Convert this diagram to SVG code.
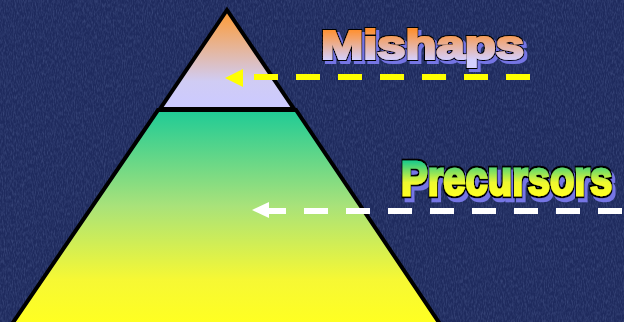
<svg xmlns="http://www.w3.org/2000/svg" width="624" height="322" viewBox="0 0 624 322">
<defs>
<linearGradient id="gTop" x1="0" y1="10" x2="0" y2="105" gradientUnits="userSpaceOnUse">
<stop offset="0" stop-color="#ff9a30"/><stop offset="0.75" stop-color="#d0ccf4"/><stop offset="1" stop-color="#cccaff"/>
</linearGradient>
<linearGradient id="gBot" x1="0" y1="110" x2="0" y2="322" gradientUnits="userSpaceOnUse">
<stop offset="0" stop-color="#1ecb96"/><stop offset="0.45" stop-color="#a8e27a"/><stop offset="0.8" stop-color="#f6f834"/><stop offset="1" stop-color="#ffff22"/>
</linearGradient>
<linearGradient id="gMis" x1="0" y1="30" x2="0" y2="60" gradientUnits="userSpaceOnUse">
<stop offset="0" stop-color="#ff9030"/><stop offset="1" stop-color="#d4d0ff"/>
</linearGradient>
<linearGradient id="gPre" x1="0" y1="-28" x2="0" y2="1" gradientUnits="userSpaceOnUse">
<stop offset="0" stop-color="#22cc88"/><stop offset="0.6" stop-color="#eef830"/><stop offset="1" stop-color="#ffff22"/>
</linearGradient>
<filter id="tex" x="0" y="0" width="100%" height="100%">
<feTurbulence type="fractalNoise" baseFrequency="0.9 0.25" numOctaves="2" seed="3" result="n"/>
<feColorMatrix in="n" type="matrix" values="0 0 0 0 0.12  0 0 0 0 0.17  0 0 0 0 0.38  0 0 0 1.2 -0.45"/>
</filter>
<filter id="fx" x="-3%" y="-20%" width="106%" height="140%">
<feMorphology in="SourceAlpha" operator="dilate" radius="1.3" result="d"/>
<feOffset in="d" dx="3" dy="3" result="o"/>
<feFlood flood-color="#7474e4"/>
<feComposite in2="o" operator="in" result="sh"/>
<feFlood flood-color="#000"/>
<feComposite in2="d" operator="in" result="ol"/>
<feMerge><feMergeNode in="sh"/><feMergeNode in="ol"/><feMergeNode in="SourceGraphic"/></feMerge>
</filter>
<style>
.lbl{font-family:"Liberation Sans",Arial,sans-serif;font-weight:bold;filter:url(#fx)}
.edge{stroke:#000;stroke-width:4;stroke-linejoin:miter}
.dashY{stroke:#ffff00;stroke-width:6;stroke-dasharray:24 18;fill:none}
.dashW{stroke:#ffffff;stroke-width:6;stroke-dasharray:24 18;fill:none}
</style>
</defs>
<rect width="624" height="322" fill="#1f2b5e"/>
<rect width="624" height="322" filter="url(#tex)" opacity="0.6"/>
<g id="mishaps-level">
<polygon class="edge" points="227,10 294,109 160,109" fill="url(#gTop)"/>
</g>
<g id="precursors-level">
<polygon class="edge" points="158,110 296,110 440,324 12,324" fill="url(#gBot)"/>
</g>
<g id="mishaps-label">
<text class="lbl" x="321" y="59" font-size="40" textLength="203" lengthAdjust="spacingAndGlyphs" fill="url(#gMis)" stroke="url(#gMis)" stroke-width="2.2">Mishaps</text>
</g>
<g id="precursors-label">
<text class="lbl" transform="translate(401,195) scale(1,1.18)" x="0" y="0" font-size="40" fill="url(#gPre)" stroke="url(#gPre)" stroke-width="2">Precursors</text>
</g>
<g id="connectors">
<path class="dashY" d="M530,77 H254"/>
<polygon points="225,78 243,69 243,87" fill="#ffff00"/>
<path class="dashW" d="M624,211 H263" stroke-dashoffset="-2"/>
<polygon points="252,210 269,202 269,218" fill="#ffffff"/>
</g>
</svg>
